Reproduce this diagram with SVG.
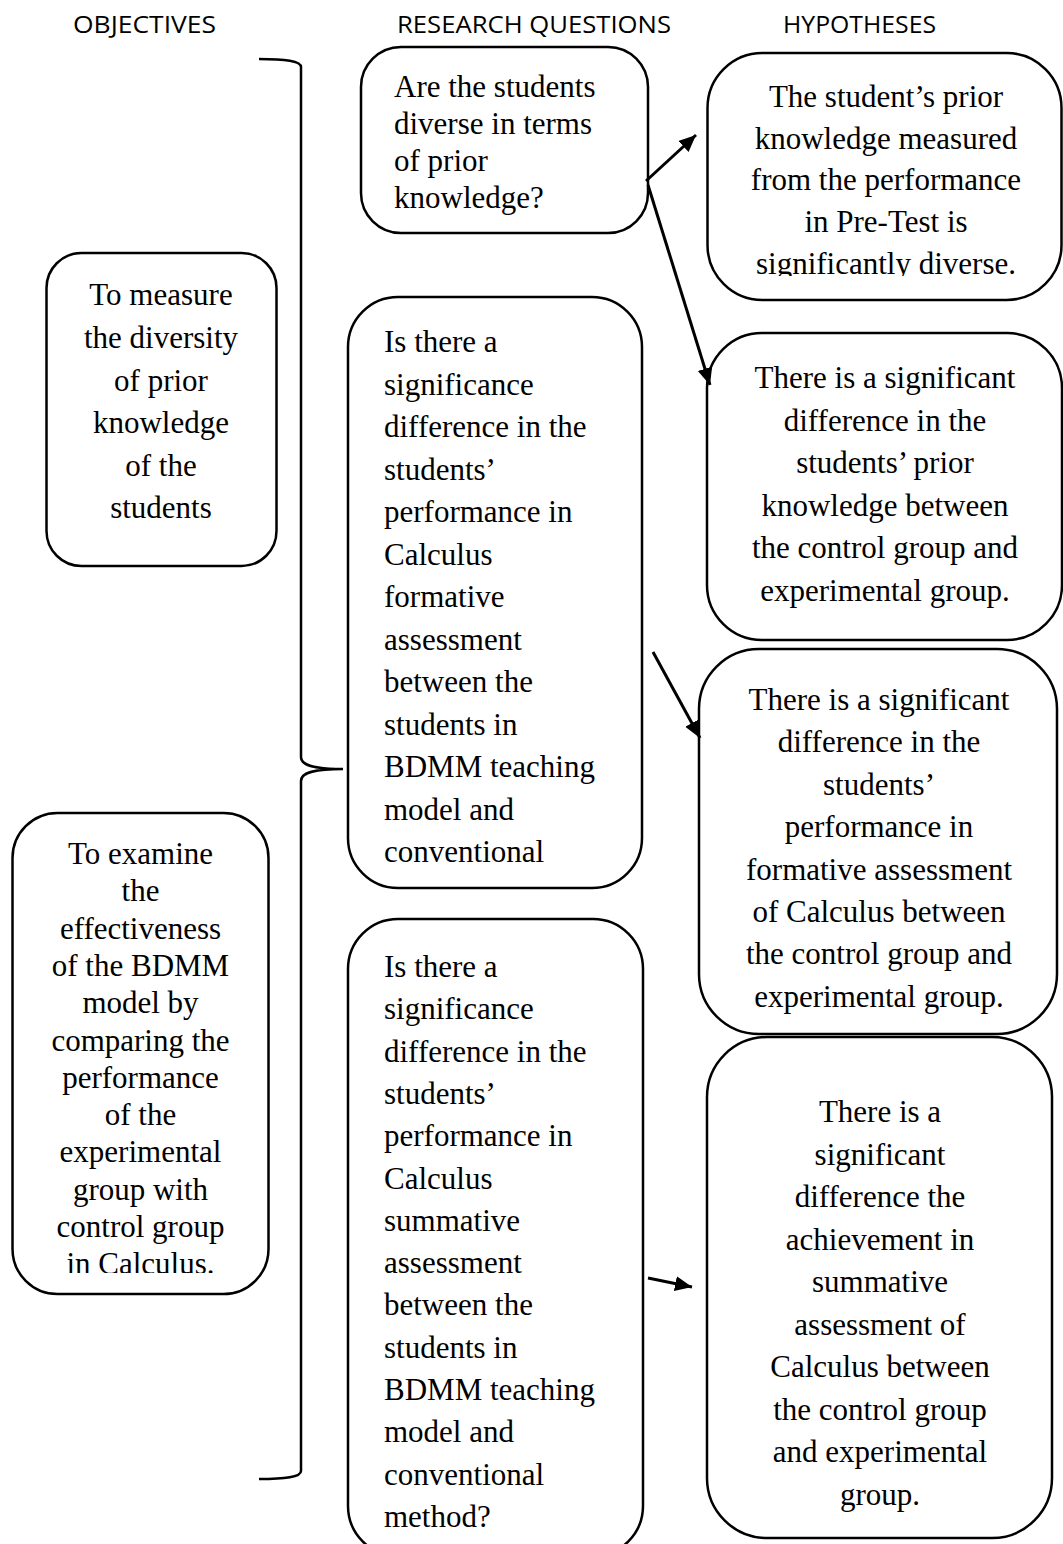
<svg xmlns="http://www.w3.org/2000/svg" width="1063" height="1544" viewBox="0 0 1063 1544">
<style>
.box{fill:#fff;stroke:#000;stroke-width:2.5}
.t{font-family:"Liberation Serif","Times New Roman",serif;font-size:31px;fill:#000}
.c{text-anchor:middle}
.hd{font-family:"Open Sans","Liberation Sans",sans-serif;font-size:24px;fill:#000}
.ar{fill:none;stroke:#000;stroke-width:3;marker-end:url(#ah)}
.br{fill:none;stroke:#000;stroke-width:2.5}
</style>
<defs>
<marker id="ah" markerUnits="userSpaceOnUse" markerWidth="18" markerHeight="16" refX="17" refY="7.5" orient="auto">
<path d="M0,0 L17,7.5 L0,15 z" fill="#000"/>
</marker>
<clipPath id="clipH1"><rect x="700" y="40" width="363" height="236"/></clipPath>
<clipPath id="clipO2"><rect x="0" y="800" width="300" height="473"/></clipPath>
</defs>
<rect width="1063" height="1544" fill="#fff"/>
<g id="headers">
<text class="hd" x="73" y="33" textLength="143" lengthAdjust="spacingAndGlyphs">OBJECTIVES</text>
<text class="hd" x="397" y="33" textLength="274" lengthAdjust="spacingAndGlyphs">RESEARCH QUESTIONS</text>
<text class="hd" x="783" y="33" textLength="153" lengthAdjust="spacingAndGlyphs">HYPOTHESES</text>
</g>
<g id="brace">
<path class="br" d="M259,59 C285,59 301,61 301,67 L301,757 C301,765 312,769 343,769 C312,769 301,773 301,781 L301,1471 C301,1477 285,1479 259,1479"/>
</g>
<g id="obj1">
<rect class="box" x="46.5" y="253" width="230" height="313" rx="35"/>
<text class="t c"><tspan x="161" y="305">To measure</tspan><tspan x="161" y="348">the diversity</tspan><tspan x="161" y="391">of prior</tspan><tspan x="161" y="433">knowledge</tspan><tspan x="161" y="476">of the</tspan><tspan x="161" y="518">students</tspan></text>
</g>
<g id="obj2">
<rect class="box" x="12.5" y="813" width="256" height="481" rx="45"/>
<text class="t c" clip-path="url(#clipO2)"><tspan x="140.5" y="864">To examine</tspan><tspan x="140.5" y="901">the</tspan><tspan x="140.5" y="939">effectiveness</tspan><tspan x="140.5" y="976">of the BDMM</tspan><tspan x="140.5" y="1013">model by</tspan><tspan x="140.5" y="1051">comparing the</tspan><tspan x="140.5" y="1088">performance</tspan><tspan x="140.5" y="1125">of the</tspan><tspan x="140.5" y="1162">experimental</tspan><tspan x="140.5" y="1200">group with</tspan><tspan x="140.5" y="1237">control group</tspan><tspan x="140.5" y="1274">in Calculus.</tspan></text>
</g>
<g id="rq1">
<rect class="box" x="361" y="47" width="287" height="186" rx="40"/>
<text class="t"><tspan x="394" y="97">Are the students</tspan><tspan x="394" y="134">diverse in terms</tspan><tspan x="394" y="171">of prior</tspan><tspan x="394" y="208">knowledge?</tspan></text>
</g>
<g id="rq2">
<rect class="box" x="348" y="297" width="294" height="591" rx="50"/>
<text class="t"><tspan x="384" y="352">Is there a</tspan><tspan x="384" y="394.5">significance</tspan><tspan x="384" y="437">difference in the</tspan><tspan x="384" y="479.5">students’</tspan><tspan x="384" y="522">performance in</tspan><tspan x="384" y="564.5">Calculus</tspan><tspan x="384" y="607">formative</tspan><tspan x="384" y="649.5">assessment</tspan><tspan x="384" y="692">between the</tspan><tspan x="384" y="734.5">students in</tspan><tspan x="384" y="777">BDMM teaching</tspan><tspan x="384" y="819.5">model and</tspan><tspan x="384" y="862">conventional</tspan></text>
</g>
<g id="rq3">
<rect class="box" x="348" y="919" width="295" height="637" rx="50"/>
<text class="t"><tspan x="384" y="977">Is there a</tspan><tspan x="384" y="1019.3">significance</tspan><tspan x="384" y="1061.6">difference in the</tspan><tspan x="384" y="1103.9">students’</tspan><tspan x="384" y="1146.2">performance in</tspan><tspan x="384" y="1188.5">Calculus</tspan><tspan x="384" y="1230.8">summative</tspan><tspan x="384" y="1273.1">assessment</tspan><tspan x="384" y="1315.4">between the</tspan><tspan x="384" y="1357.7">students in</tspan><tspan x="384" y="1400">BDMM teaching</tspan><tspan x="384" y="1442.3">model and</tspan><tspan x="384" y="1484.6">conventional</tspan><tspan x="384" y="1527">method?</tspan></text>
</g>
<g id="h1">
<rect class="box" x="707.5" y="53" width="354" height="247" rx="55"/>
<text class="t c" clip-path="url(#clipH1)"><tspan x="886" y="107">The student’s prior</tspan><tspan x="886" y="148.5">knowledge measured</tspan><tspan x="886" y="190">from the performance</tspan><tspan x="886" y="232">in Pre-Test is</tspan><tspan x="886" y="274">significantly diverse.</tspan></text>
</g>
<g id="h2">
<rect class="box" x="707" y="333" width="355" height="307" rx="55"/>
<text class="t c"><tspan x="885" y="388">There is a significant</tspan><tspan x="885" y="430.6">difference in the</tspan><tspan x="885" y="473.2">students’ prior</tspan><tspan x="885" y="515.8">knowledge between</tspan><tspan x="885" y="558.4">the control group and</tspan><tspan x="885" y="601">experimental group.</tspan></text>
</g>
<g id="h3">
<rect class="box" x="699" y="649" width="358" height="385" rx="60"/>
<text class="t c"><tspan x="879" y="710">There is a significant</tspan><tspan x="879" y="752.4">difference in the</tspan><tspan x="879" y="794.8">students’</tspan><tspan x="879" y="837.2">performance in</tspan><tspan x="879" y="879.6">formative assessment</tspan><tspan x="879" y="922">of Calculus between</tspan><tspan x="879" y="964.4">the control group and</tspan><tspan x="879" y="1006.8">experimental group.</tspan></text>
</g>
<g id="h4">
<rect class="box" x="707" y="1037" width="345" height="501" rx="60"/>
<text class="t c"><tspan x="880" y="1122">There is a</tspan><tspan x="880" y="1164.5">significant</tspan><tspan x="880" y="1207">difference the</tspan><tspan x="880" y="1249.5">achievement in</tspan><tspan x="880" y="1292">summative</tspan><tspan x="880" y="1334.5">assessment of</tspan><tspan x="880" y="1377">Calculus between</tspan><tspan x="880" y="1419.5">the control group</tspan><tspan x="880" y="1462">and experimental</tspan><tspan x="880" y="1504.5">group.</tspan></text>
</g>
<g id="connectors">
<path class="ar" d="M646,181 L696,135"/>
<path class="ar" d="M648,185 L710,385"/>
<path class="ar" d="M653,652 L700,738"/>
<path class="ar" d="M648,1278 L692,1287"/>
</g>
</svg>
